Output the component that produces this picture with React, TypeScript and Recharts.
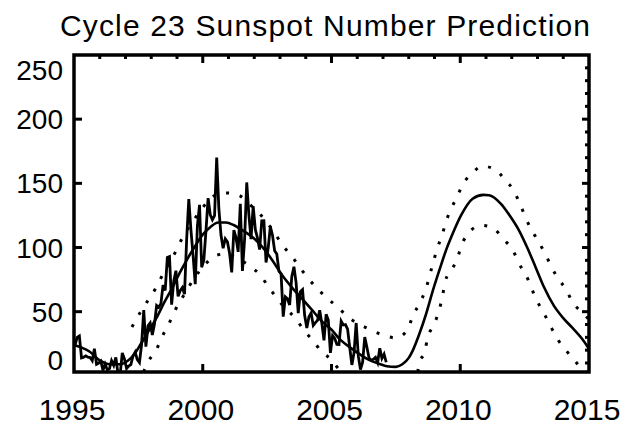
import React from 'react';
import { LineChart, Line, XAxis, YAxis, ReferenceArea } from 'recharts';

// ---------- data ----------
const obsStartYear = 1995;
// monthly sunspot numbers, Jan 1995 .. Feb 2007
const obsMonthly = [
  24.2, 29.9, 31.1, 14.0, 14.5, 15.6, 14.5, 14.3, 11.8, 21.1, 9.0, 10.0,
  11.5, 4.4, 9.2, 4.8, 5.5, 11.8, 8.2, 14.4, 1.6, 0.9, 17.9, 13.3,
  5.7, 7.6, 8.7, 15.5, 18.5, 12.7, 10.4, 24.4, 51.3, 22.8, 39.0, 41.2,
  31.9, 40.3, 54.8, 53.4, 56.3, 70.7, 66.6, 92.2, 92.9, 55.5, 74.0, 81.9,
  62.0, 66.3, 68.8, 63.7, 106.4, 137.7, 113.5, 93.7, 71.5, 116.7, 133.2, 84.6,
  90.1, 112.9, 138.5, 125.5, 121.6, 124.9, 170.1, 130.5, 109.7, 99.4, 106.8, 104.4,
  95.6, 80.6, 113.5, 107.7, 96.6, 134.0, 81.8, 106.4, 150.7, 125.5, 106.5, 132.2,
  114.1, 107.4, 98.4, 120.7, 120.8, 88.3, 99.6, 116.4, 109.6, 97.5, 95.0, 81.6,
  79.5, 46.2, 61.5, 60.0, 55.2, 77.4, 85.0, 72.7, 48.8, 65.6, 67.2, 47.0,
  37.2, 46.0, 48.9, 39.3, 41.5, 43.2, 51.1, 40.9, 27.7, 48.0, 43.5, 17.9,
  31.3, 29.2, 24.5, 24.4, 42.6, 39.6, 39.9, 36.4, 22.1, 8.5, 18.0, 41.2,
  15.3, 4.9, 10.6, 30.2, 22.3, 13.9, 12.2, 12.9, 14.4, 10.4, 21.5, 13.6,
  16.9, 10.6,
];

// smooth fit / prediction
const fitYears = [
  1995.0, 1995.3, 1995.6, 1996.0, 1996.4, 1996.8, 1997.1, 1997.35, 1997.6, 1997.9,
  1998.2, 1998.5, 1998.8, 1999.1, 1999.4, 1999.7, 2000.0, 2000.3, 2000.6, 2000.9,
  2001.2, 2001.5, 2001.9, 2002.2, 2002.6, 2003.1, 2003.5, 2003.95, 2004.3, 2004.6,
  2005.0, 2005.3, 2005.8, 2006.4, 2006.9, 2007.15, 2007.5, 2007.75, 2008.0, 2008.15,
  2008.4, 2008.67, 2008.93, 2009.2, 2009.45, 2009.7, 2010.03, 2010.48, 2010.9, 2011.12,
  2011.58, 2011.96, 2012.29, 2012.6, 2012.93, 2013.26, 2013.64, 2014.0, 2014.35, 2014.8,
  2015.0,
];
const fitValues = [
  24, 22, 19, 12, 9, 9, 12, 17, 25, 35,
  45, 57, 68, 80, 91, 101, 110, 116, 119.5, 119.5,
  117.5, 114, 108.5, 103, 93, 78, 68, 58, 50, 43,
  36, 29, 21, 13, 9, 7.5, 7, 9, 14, 19.5,
  32, 48, 66, 83, 98, 110.5, 125, 138, 141, 140.7,
  134, 123.7, 113, 100, 84.5, 68.8, 54.5, 45, 37.5, 27,
  21,
];

// upper dotted bound
const hiYears = [
  1997.25, 1997.56, 1997.85, 1998.14, 1998.5, 1998.85, 1999.17, 1999.5, 1999.85, 2000.2,
  2000.5, 2000.85, 2001.2, 2001.43, 2001.8, 2002.2, 2002.7, 2003.11, 2003.5, 2003.9,
  2004.4, 2004.86, 2005.3, 2005.6, 2006.0, 2006.4, 2006.93, 2007.5, 2007.96, 2008.15,
  2008.41, 2008.67, 2008.93, 2009.12, 2009.31, 2009.44, 2009.68, 2009.9, 2010.12, 2010.48,
  2010.84, 2011.36, 2011.7, 2012.05, 2012.29, 2012.52, 2012.74, 2013.0, 2013.32, 2013.54,
  2013.77, 2014.1, 2014.35, 2014.74, 2015.0,
];
const hiValues = [
  38, 49, 58, 67, 81, 93, 106, 117, 127, 136,
  141, 142.5, 142, 140.5, 134, 126.5, 114, 101.5, 92, 81,
  69, 60, 52.5, 46.5, 41, 37, 32.3, 29.6, 36, 46.5,
  56, 68, 87, 100, 110.6, 119.8, 131.5, 140.7, 149.8, 158.2,
  163.4, 160.8, 153.7, 145.1, 135.4, 124.2, 114.6, 106, 94.2, 85,
  76.6, 67.6, 57.8, 49.2, 44,
];

// lower dotted bound, cycle 23 part
const lo23Years = [
  1997.7, 1997.88, 1998.2, 1998.46, 1998.72, 1998.95, 1999.3, 1999.7, 2000.1, 2000.53,
  2000.9, 2001.4, 2001.89, 2002.2, 2002.57, 2003.1, 2003.63, 2003.95, 2004.3, 2004.6,
  2004.99, 2005.3, 2005.45,
];
const lo23Values = [
  3, 11, 20.5, 32, 42, 52, 64, 77, 87, 94,
  95, 91, 84.5, 79.3, 68.8, 55, 44, 35, 27, 19.2,
  12.7, 5, 3,
];

// lower dotted bound, cycle 24 part
const lo24Years = [
  2008.35, 2008.41, 2008.63, 2008.73, 2008.99, 2009.31, 2009.42, 2009.68, 2009.9, 2010.09,
  2010.8, 2011.2, 2011.7, 2012.05, 2012.29, 2012.55, 2012.78, 2013.0, 2013.32, 2013.55,
  2013.8, 2014.1, 2014.4, 2014.7, 2014.9,
];
const lo24Values = [
  3, 10, 19.2, 29.6, 40, 62, 74, 83, 92.3, 104,
  117.2, 116, 106, 97.6, 87.1, 78.8, 67.6, 57.8, 46, 37,
  28, 20, 13, 6, 3,
];

const titleText = 'Cycle 23 Sunspot Number Prediction';
const yTicks = [0, 50, 100, 150, 200, 250];
const xTicks = [1995, 2000, 2005, 2010, 2015];
const topTicks = [1996, 1997, 1998, 1999, 2000, 2001, 2002, 2003, 2004, 2005, 2006, 2007, 2008, 2009, 2010, 2011, 2012, 2013, 2014];
const rightTicks = [10, 20, 30, 40, 50, 60, 70, 80, 90, 100, 110, 120, 130, 140, 150, 160, 170, 180, 190, 200, 210, 220, 230, 240];

// ---------- layout ----------
const W = 624;
const H = 425;
const PL = 74;
const PR = 590;
const PT = 54;
const PB = 372;
const FONT = '"Liberation Sans", Arial, sans-serif';
const TICK = '#000';

const rows = (ts: number[], vs: number[]) => ts.map((t, i) => ({ t, v: vs[i] }));
const obsData = obsMonthly.map((v, i) => ({ t: obsStartYear + (i + 0.5) / 12, v }));
const fitData = rows(fitYears, fitValues);
const hiData = rows(hiYears, hiValues);
const lo23Data = rows(lo23Years, lo23Values);
const lo24Data = rows(lo24Years, lo24Values);

const LeftTick = (props: any) => {
  const { y, payload } = props;
  const v = payload.value;
  const ty = Math.min(Math.max(y, 70), 360);
  return (
    <g>
      <text x={63} y={ty} dy="0.36em" textAnchor="end" fontFamily={FONT} fontSize={28} fill="#000">
        {v}
      </text>
      {v > 0 && v < 250 ? <rect x={PL} y={y - 1.5} width={8} height={3} fill={TICK} /> : null}
    </g>
  );
};

const RightTick = (props: any) => {
  const { y, payload } = props;
  const len = payload.value % 50 === 0 ? 8 : 5;
  return <rect x={PR - len} y={y - 1.5} width={len} height={3} fill={TICK} />;
};

const TopTick = (props: any) => {
  const { x, payload } = props;
  const len = payload.value % 5 === 0 ? 9 : 5;
  return <rect x={x - 1.5} y={PT} width={3} height={len} fill={TICK} />;
};

const BottomTick = (props: any) => {
  const { x, payload } = props;
  const v = payload.value;
  return (
    <g>
      <text x={x - 2} y={420} textAnchor="middle" fontFamily={FONT} fontSize={30} fill="#000">
        {v}
      </text>
      {v > 1995 && v < 2015 ? <rect x={x - 1.5} y={PB - 8} width={3} height={8} fill={TICK} /> : null}
    </g>
  );
};

export default function App() {
  return (
    <div style={{ position: 'absolute', left: 0, top: 0, width: W, height: H, background: '#fff' }}>
      <svg width={W} height={50} style={{ position: 'absolute', left: 0, top: 0 }}>
        <text x={325} y={36} textAnchor="middle" fontFamily={FONT} fontSize={30} textLength={530} lengthAdjust="spacing" fill="#000">
          {titleText}
        </text>
      </svg>
      <div style={{ position: 'absolute', left: 0, top: 0 }}>
        <LineChart width={W} height={H} margin={{ top: PT, right: W - PR, bottom: 0, left: 0 }}>
          <XAxis
            xAxisId={0}
            dataKey="t"
            type="number"
            domain={[1995, 2015]}
            allowDataOverflow
            ticks={xTicks}
            interval={0}
            height={H - PB}
            axisLine={false}
            tickLine={false}
            tick={<BottomTick />}
          />
          <XAxis
            xAxisId="top"
            orientation="top"
            dataKey="t"
            type="number"
            domain={[1995, 2015]}
            allowDataOverflow
            ticks={topTicks}
            interval={0}
            height={1}
            axisLine={false}
            tickLine={false}
            tick={<TopTick />}
          />
          <YAxis
            yAxisId={0}
            type="number"
            domain={[3, 250]}
            allowDataOverflow
            ticks={yTicks}
            interval={0}
            width={PL}
            axisLine={false}
            tickLine={false}
            tick={<LeftTick />}
          />
          <YAxis
            yAxisId="r"
            orientation="right"
            type="number"
            domain={[3, 250]}
            allowDataOverflow
            ticks={rightTicks}
            interval={0}
            width={1}
            axisLine={false}
            tickLine={false}
            tick={<RightTick />}
          />
          <Line data={hiData} dataKey="v" type="monotone" dot={false} stroke="#000" strokeWidth={3} strokeDasharray="3 11" isAnimationActive={false} />
          <Line data={lo23Data} dataKey="v" type="monotone" dot={false} stroke="#000" strokeWidth={3} strokeDasharray="3 11" isAnimationActive={false} />
          <Line data={lo24Data} dataKey="v" type="monotone" dot={false} stroke="#000" strokeWidth={3} strokeDasharray="3 11" isAnimationActive={false} />
          <Line data={fitData} dataKey="v" type="monotone" dot={false} stroke="#000" strokeWidth={2.6} isAnimationActive={false} />
          <Line data={obsData} dataKey="v" type="linear" dot={false} stroke="#000" strokeWidth={2.8} isAnimationActive={false} />
          <ReferenceArea x1={1995} x2={2015} y1={3} y2={250} fill="none" stroke="#000" strokeWidth={3.5} ifOverflow="visible" />
        </LineChart>
      </div>
    </div>
  );
}
